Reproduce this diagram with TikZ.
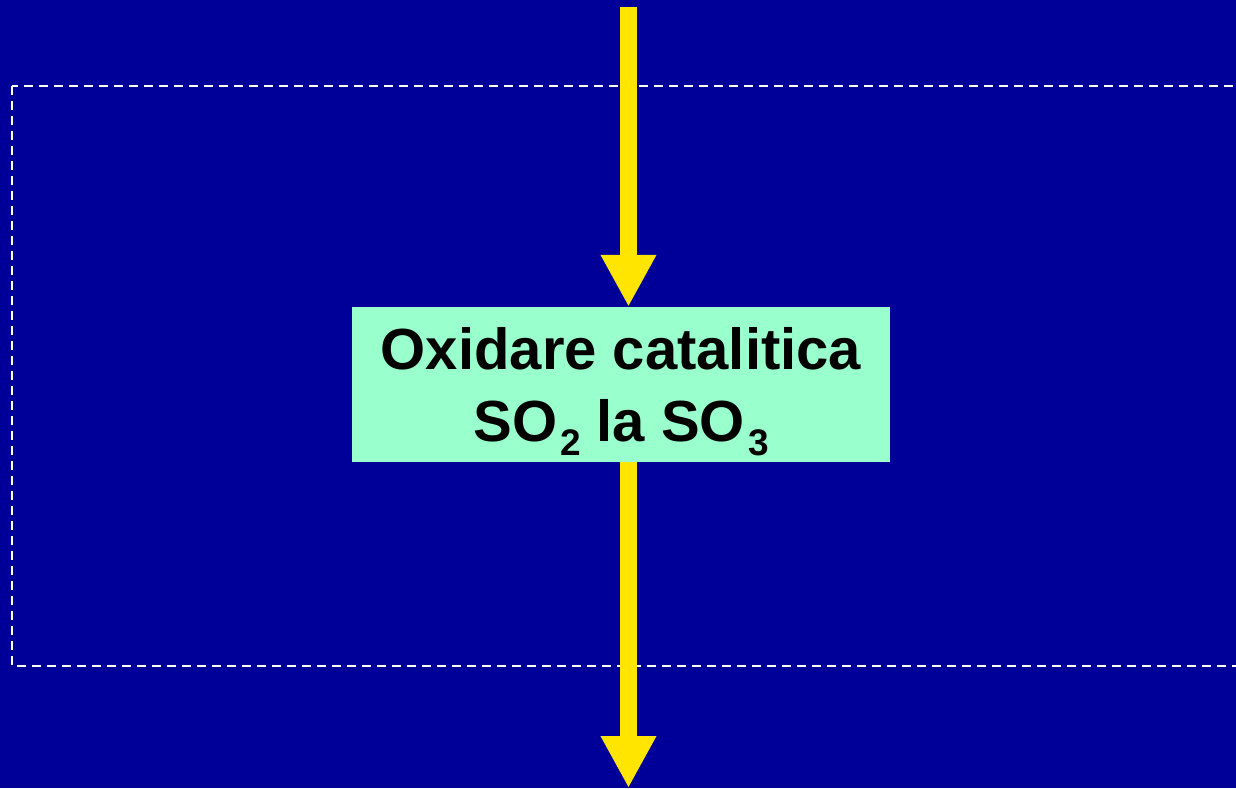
\documentclass[tikz,border=0pt]{standalone}
\usepackage{fontspec}
\setmainfont{Liberation Sans}
\usetikzlibrary{arrows.meta}
\definecolor{bgblue}{RGB}{0,0,153}
\definecolor{mint}{RGB}{153,255,204}
\definecolor{arrowyellow}{RGB}{255,229,0}
\newcommand{\sub}[1]{\kern3pt\raisebox{-14pt}{\fontsize{37}{37}\selectfont #1}}
\newcommand{\boxtext}{\raisebox{-7pt}[\height][\depth]{\begin{tabular}{@{}c@{}}Oxidare catalitica\\SO\sub{2} la SO\sub{3}\end{tabular}}}
\tikzset{
  flowarrow/.style={draw=arrowyellow, line width=17pt, line cap=butt,
    -{Triangle[width=52pt,length=52pt]}},
  stepbox/.style={fill=mint, draw=none, minimum width=538pt, minimum height=155pt,
    inner sep=0pt, align=center, font=\fontsize{58}{72}\selectfont\bfseries},
  framebox/.style={draw=white, line width=2pt, dash pattern=on 9pt off 6pt}
}
\begin{document}
\begin{tikzpicture}[x=1pt,y=-1pt]
\useasboundingbox (0,0) rectangle (1236,788);
\fill[bgblue] (0,0) rectangle (1236,788);
\begin{scope}
\clip (0,0) rectangle (1236,788);
\draw[framebox] (12,86) rectangle (1250,666);
\end{scope}
\node[stepbox] (box) at (621,384.5) {\boxtext};
\coordinate (top) at (628.5,7);
\coordinate (bottom) at (628.5,788);
\draw[flowarrow] (top) -- (top |- box.north);
\draw[flowarrow] (top |- box.south) -- (bottom);
\end{tikzpicture}
\end{document}
